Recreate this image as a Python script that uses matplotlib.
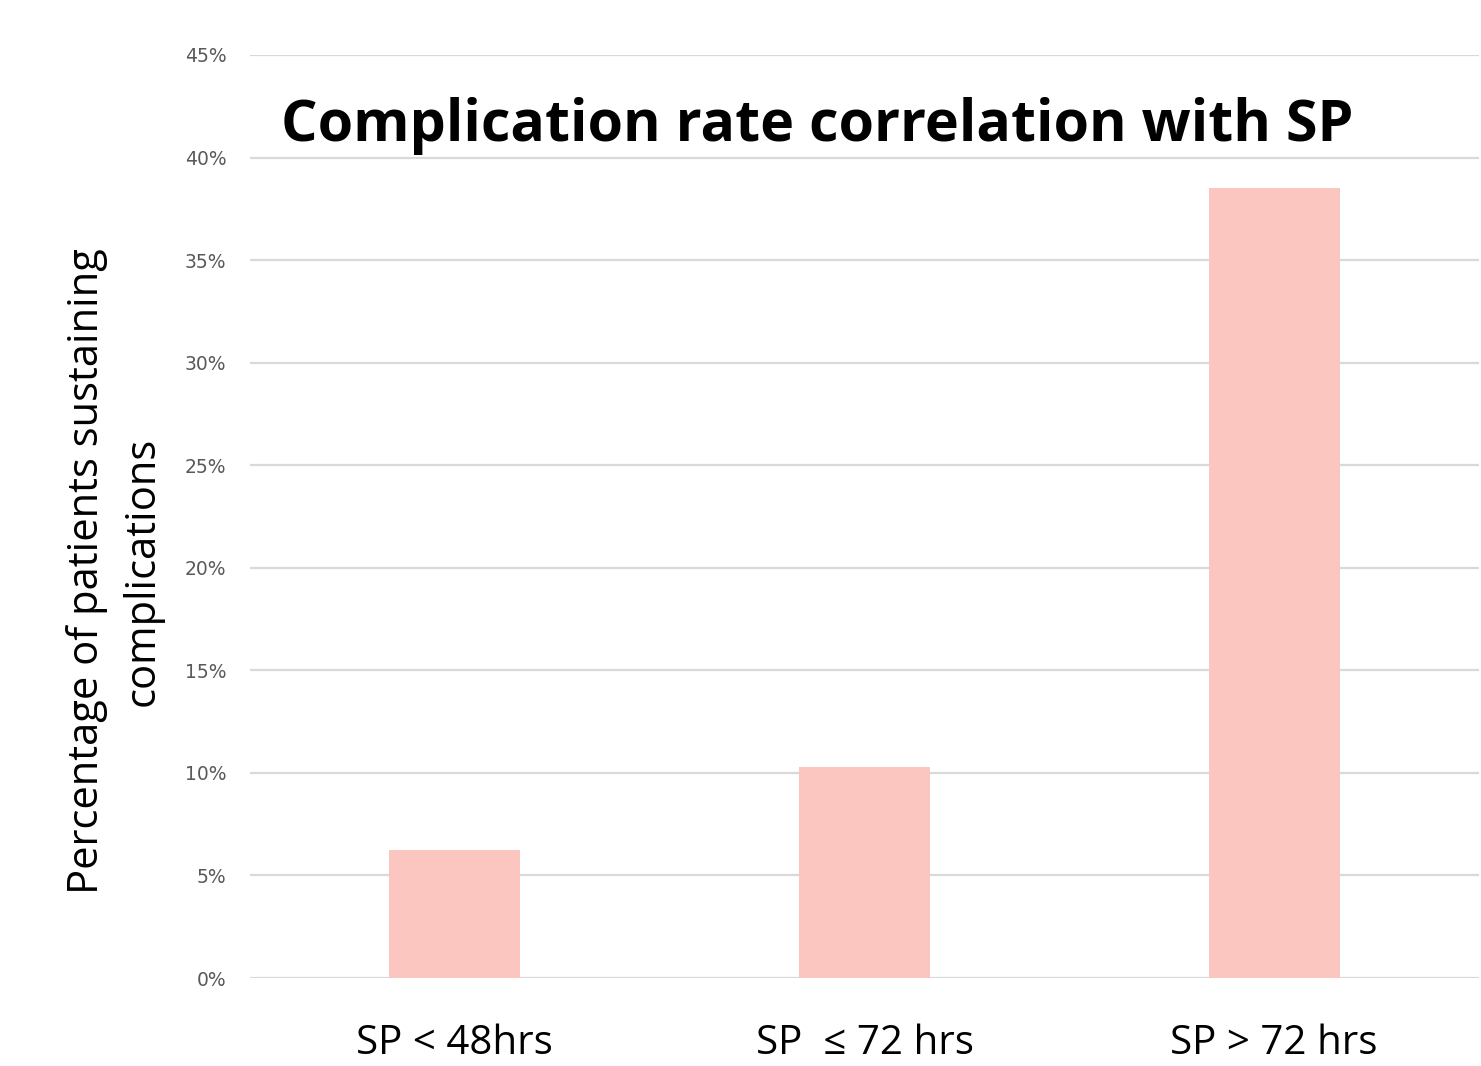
import matplotlib
matplotlib.use("Agg")
import matplotlib.pyplot as plt
from matplotlib.ticker import PercentFormatter

# Data
categories = ["SP < 48hrs", "SP  \u2264 72 hrs", "SP > 72 hrs"]
rates = [0.0625, 0.103, 0.385]
y_ticks = [0.00, 0.05, 0.10, 0.15, 0.20, 0.25, 0.30, 0.35, 0.40, 0.45]

W, H = 1481, 1066
fig = plt.figure(figsize=(W / 100, H / 100), dpi=100)
ax = fig.add_axes([250 / W, 1 - 978 / H, (1479 - 250) / W, (978 - 55) / H])

x = range(len(categories))
ax.bar(x, rates, width=0.32, color="#FBC6C0", zorder=2)

ax.set_xlim(-0.5, len(categories) - 0.5)
ax.set_ylim(0, 0.45)
ax.set_yticks(y_ticks)
ax.yaxis.set_major_formatter(PercentFormatter(1.0, decimals=0))
ax.grid(axis="y", color="#D9D9D9", linewidth=1.6, zorder=0)
for s in ax.spines.values():
    s.set_visible(False)
ax.tick_params(axis="y", length=0, pad=17, labelsize=13.5, labelcolor="#595959")
ax.tick_params(axis="x", length=0, pad=33)
ax.set_xticks(list(x))
ax.set_xticklabels(categories, fontsize=29, family=["Open Sans", "DejaVu Sans"])

ax.set_ylabel("Percentage of patients sustaining\ncomplications", fontsize=30,
              family="Open Sans", linespacing=1.45)
ax.yaxis.set_label_coords(-86 / (1479 - 250), (978 - 571) / (978 - 55))

fig.text(817 / W, 1 - 126 / H, "Complication rate correlation with SP",
         ha="center", va="center", fontsize=41.3, fontweight="bold",
         family="Open Sans")

fig.savefig("out.png", dpi=100)
